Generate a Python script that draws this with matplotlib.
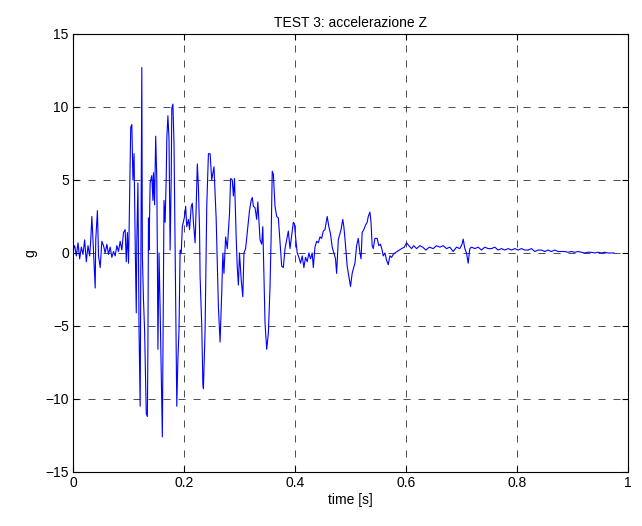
import matplotlib
matplotlib.use("Agg")
import matplotlib.pyplot as plt

title = "TEST 3: accelerazione Z"
xlabel = "time [s]"
ylabel = "g"
xticks = [0, 0.2, 0.4, 0.6, 0.8, 1]
xticklabels = ["0", "0.2", "0.4", "0.6", "0.8", "1"]
yticks = [-15, -10, -5, 0, 5, 10, 15]

time_s = [
    0.000, 0.003, 0.006, 0.009, 0.012, 0.015, 0.018, 0.021, 0.024, 0.027, 0.030,
    0.032, 0.034, 0.037, 0.040, 0.041, 0.044, 0.046, 0.049, 0.052, 0.055, 0.058,
    0.061, 0.064, 0.067, 0.070, 0.073, 0.076, 0.079, 0.082, 0.085, 0.088, 0.091,
    0.094, 0.096, 0.098, 0.100, 0.101, 0.104, 0.106, 0.108, 0.110, 0.112, 0.114,
    0.115, 0.117, 0.119, 0.121, 0.123, 0.124, 0.125, 0.127, 0.129, 0.132, 0.134,
    0.135, 0.136, 0.137, 0.139, 0.142, 0.144, 0.145, 0.147, 0.149, 0.151, 0.152,
    0.153, 0.155, 0.157, 0.159, 0.161, 0.163, 0.164, 0.166, 0.168, 0.169, 0.171,
    0.173, 0.175, 0.177, 0.178, 0.180, 0.182, 0.184, 0.186, 0.187, 0.189, 0.191,
    0.193, 0.195, 0.197, 0.201, 0.203, 0.205, 0.208, 0.210, 0.213, 0.215, 0.217,
    0.220, 0.222, 0.224, 0.226, 0.228, 0.229, 0.232, 0.234, 0.235, 0.237, 0.238,
    0.241, 0.244, 0.247, 0.250, 0.254, 0.258, 0.262, 0.265, 0.268, 0.270, 0.272,
    0.275, 0.278, 0.282, 0.284, 0.287, 0.289, 0.291, 0.294, 0.296, 0.298, 0.300,
    0.303, 0.306, 0.308, 0.311, 0.314, 0.318, 0.321, 0.323, 0.325, 0.328, 0.331,
    0.333, 0.337, 0.340, 0.342, 0.344, 0.346, 0.349, 0.352, 0.355, 0.357, 0.359,
    0.361, 0.364, 0.367, 0.370, 0.373, 0.376, 0.379, 0.382, 0.385, 0.388, 0.391,
    0.394, 0.397, 0.399, 0.401, 0.404, 0.407, 0.410, 0.413, 0.416, 0.419, 0.422,
    0.425, 0.428, 0.431, 0.433, 0.436, 0.439, 0.442, 0.445, 0.448, 0.451, 0.454,
    0.458, 0.461, 0.464, 0.467, 0.470, 0.473, 0.475, 0.478, 0.483, 0.486, 0.488,
    0.490, 0.492, 0.494, 0.497, 0.500, 0.503, 0.505, 0.508, 0.511, 0.514, 0.517,
    0.519, 0.521, 0.524, 0.527, 0.530, 0.532, 0.535, 0.537, 0.539, 0.541, 0.544,
    0.548, 0.551, 0.554, 0.557, 0.559, 0.562, 0.565, 0.568, 0.571, 0.574, 0.577,
    0.580, 0.584, 0.588, 0.592, 0.597, 0.601, 0.605, 0.610, 0.614, 0.619, 0.625,
    0.630, 0.636, 0.642, 0.649, 0.655, 0.661, 0.667, 0.673, 0.679, 0.685, 0.691,
    0.697, 0.701, 0.703, 0.706, 0.709, 0.712, 0.715, 0.718, 0.724, 0.730, 0.736,
    0.742, 0.748, 0.754, 0.760, 0.766, 0.772, 0.778, 0.784, 0.790, 0.796, 0.802,
    0.808, 0.814, 0.820, 0.826, 0.832, 0.838, 0.844, 0.850, 0.856, 0.862, 0.868,
    0.874, 0.880, 0.886, 0.892, 0.898, 0.904, 0.910, 0.916, 0.922, 0.928, 0.934,
    0.940, 0.946, 0.952, 0.958, 0.964, 0.970, 0.975,
]

accel_g = [
    0.2, 0.5, -0.2, 0.7, -0.4, 0.4, -0.1, 0.9, -0.6, 0.5, -0.2,
    0.9, 2.5, 0.0, -2.4, 0.9, 2.9, -0.2, -1.0, 0.8, 0.5, 0.0,
    0.6, -0.1, 0.4, -0.3, 0.1, -0.2, 0.5, 0.1, 0.8, 0.2, 1.4,
    1.6, -0.6, 1.4, -0.7, 1.4, 8.6, 8.8, 5.0, 6.8, 0.8, -4.1,
    0.8, 4.8, -5.3, -10.5, 4.4, 12.7, -0.2, -3.2, -5.3, -11.0, -11.2,
    -6.3, 2.4, 0.2, 4.8, 5.3, 3.6, 5.5, 3.3, 8.0, 5.0, 0.0,
    -6.6, 0.0, -3.9, -8.2, -12.6, -1.2, 3.6, 2.1, 5.2, 7.8, 9.4,
    7.8, 0.2, 5.3, 9.9, 10.2, 7.5, 0.0, -6.8, -10.5, -7.3, -5.3,
    0.2, 0.0, 1.8, 2.5, 3.2, 1.8, 2.3, 1.6, 3.2, 3.4, 2.1,
    0.7, 3.2, 6.1, 4.5, 1.6, -1.6, -5.0, -9.0, -9.3, -6.6, -5.3,
    3.2, 6.8, 6.8, 5.0, 5.9, 2.3, -3.7, -6.1, -2.7, 0.0, -1.4,
    1.1, 0.3, 2.7, 5.1, 5.0, 3.9, 5.1, 1.1, -1.0, -2.2, 0.0,
    -1.8, -3.0, 0.0, 0.3, 1.4, 2.9, 3.6, 3.8, 3.2, 3.1, 2.3,
    3.5, 0.9, 0.6, 1.8, -1.4, -4.8, -6.6, -5.5, -2.3, 1.1, 5.6,
    5.4, 3.2, 2.5, 2.4, 0.7, -0.9, -1.0, 0.3, 0.9, 1.5, 0.3,
    1.2, 2.1, 2.0, 1.1, 0.0, -0.3, -0.7, -0.2, -1.0, -0.3, -0.6,
    0.0, -0.4, 0.0, -1.0, 0.4, 0.8, 0.7, 1.1, 1.0, 1.5, 1.6,
    2.5, 1.8, 1.3, 0.4, 0.0, -0.4, -1.4, 0.9, 1.6, 2.3, 1.8,
    1.0, 0.0, -0.9, -1.6, -2.3, -1.4, -1.1, -0.7, 0.5, 1.0, 0.0,
    -0.4, 1.4, 1.6, 1.9, 2.1, 2.5, 2.8, 2.1, 0.5, 0.3, 1.0,
    1.0, 0.5, 0.6, 0.2, -0.2, 0.0, -0.5, -0.8, -0.2, -0.3, -0.1,
    0.0, 0.1, 0.2, 0.3, 0.4, 0.7, 0.5, 0.3, 0.5, 0.3, 0.5,
    0.4, 0.2, 0.4, 0.3, 0.5, 0.4, 0.5, 0.3, 0.4, 0.1, 0.4,
    0.3, 0.6, 0.95, 0.3, 0.0, -0.7, 0.3, 0.4, 0.3, 0.4, 0.2,
    0.4, 0.3, 0.3, 0.4, 0.2, 0.3, 0.2, 0.3, 0.2, 0.3, 0.2,
    0.3, 0.2, 0.2, 0.3, 0.1, 0.2, 0.2, 0.1, 0.2, 0.1, 0.2,
    0.1, 0.1, 0.1, 0.05, 0.1, 0.05, 0.1, 0.05, 0.0, 0.05, 0.05,
    0.0, 0.05, 0.0, 0.05, 0.0, 0.0, 0.0,
]

plt.rcParams["font.family"] = ["Liberation Sans", "DejaVu Sans"]
fig = plt.figure(figsize=(6.42, 5.26), dpi=100)
ax = fig.add_axes([0.1137, 0.1027, 0.8645, 0.8327])
ax.plot(time_s, accel_g, color="#0000ff", linewidth=0.8)
ax.set_xlim(0, 1)
ax.set_ylim(-15, 15)
ax.set_xticks(xticks)
ax.set_xticklabels(xticklabels)
ax.set_yticks(yticks)
ax.grid(True, color="#303030", linestyle=(0, (8.5, 9.5)), linewidth=0.6)
ax.tick_params(direction="in", top=True, right=True, labelsize=10, length=4, pad=3)
for s in ax.spines.values():
    s.set_linewidth(0.8)
ax.set_title(title, fontsize=10, pad=5)
ax.set_xlabel(xlabel, fontsize=10, labelpad=2)
ax.set_ylabel(ylabel, fontsize=10, labelpad=6)
fig.savefig("out.png", dpi=100)
